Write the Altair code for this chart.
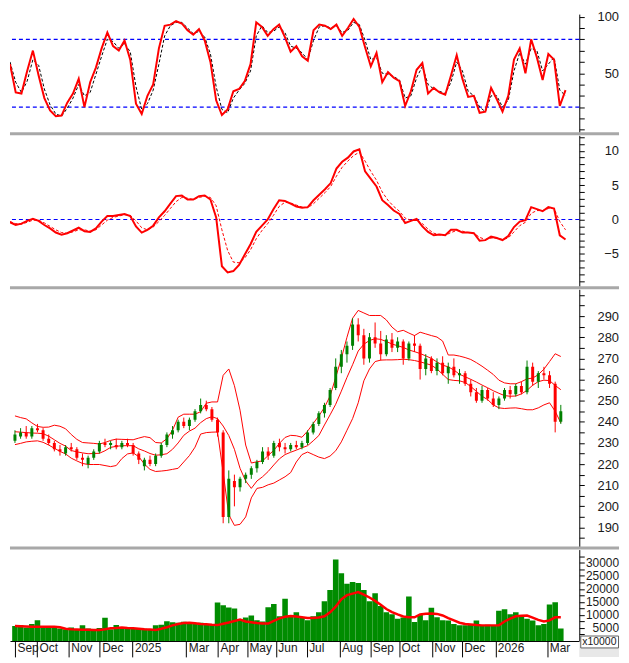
import altair as alt
import pandas as pd

# ---------------- data (one sample every 4 trading days) ----------------
stoch_k = [58, 33, 32, 52, 70, 48, 28, 17, 12, 12.5,
           24, 32, 45, 20, 42, 55, 72, 86, 74, 70,
           79, 62, 23, 14, 30, 40, 72, 92, 93, 96,
           94, 88, 84, 89, 79, 60, 26, 13, 18, 34,
           36, 43, 58, 95, 91, 83, 89, 93, 82, 69,
           74, 65, 61, 88, 93, 92, 89, 93, 83, 90,
           98, 91, 73, 56, 68, 42, 51, 46, 43, 21,
           34, 53, 59, 32, 37, 33, 31, 48, 66, 45,
           29, 30, 15, 16, 37, 27, 16, 30, 62, 72,
           50, 80, 64, 44, 67, 62, 21, 35]
stoch_d = [60, 42, 33, 43, 62, 57, 36, 22, 14, 12,
           19, 28, 40, 30, 33, 49, 65, 80, 78, 72,
           76, 69, 38, 18, 23, 35, 58, 83, 92, 95,
           95, 90, 85, 87, 82, 67, 38, 18, 15, 28,
           35, 41, 52, 83, 92, 86, 87, 91, 86, 74,
           72, 68, 62, 79, 91, 92, 90, 92, 86, 88,
           95, 93, 79, 62, 64, 50, 49, 47, 44, 28,
           30, 46, 56, 40, 36, 34, 32, 42, 60, 52,
           34, 30, 20, 16, 30, 30, 20, 26, 52, 68,
           58, 72, 70, 52, 58, 64, 35, 30]
macd = [-0.4, -0.8, -0.6, -0.2, 0.1, -0.2, -0.8, -1.3, -1.9, -2.2,
        -2.0, -1.6, -1.2, -1.7, -1.8, -1.3, -0.3, 0.5, 0.5, 0.65,
        0.8, 0.5, -1.0, -1.9, -1.5, -0.9, 0.3, 1.2, 2.3, 3.4,
        3.5, 2.9, 2.9, 3.4, 3.5, 2.9, 0.3, -6.8, -7.7, -7.5,
        -6.6, -5.1, -3.6, -1.8, -0.9, 0.0, 1.5, 2.8, 2.7, 2.3,
        1.9, 1.7, 1.8, 2.8, 3.6, 4.4, 5.3, 7.4, 8.4, 9.0,
        9.9, 10.2, 7.0, 5.9, 4.8, 2.8, 2.1, 1.3, 0.8, -0.5,
        -0.2, 0.1, -1.0, -1.8, -2.3, -2.2, -2.3, -1.5, -1.5, -1.9,
        -1.9, -2.0, -3.1, -3.0, -2.5, -2.7, -3.0, -2.4, -1.1, -0.3,
        -0.1, 1.8, 1.5, 1.2, 1.8, 1.6, -2.3, -2.9]
signal = [-0.3, -0.6, -0.7, -0.4, -0.1, -0.1, -0.5, -1.0, -1.5, -1.9,
          -2.0, -1.8, -1.5, -1.5, -1.7, -1.5, -0.8, -0.1, 0.3, 0.5,
          0.7, 0.6, -0.2, -1.2, -1.5, -1.1, -0.3, 0.6, 1.6, 2.6,
          3.2, 3.1, 2.9, 3.2, 3.4, 3.2, 2.0, -1.5, -4.5, -6.2,
          -6.3, -5.6, -4.4, -2.8, -1.6, -0.6, 0.6, 1.9, 2.5, 2.4,
          2.1, 1.8, 1.7, 2.3, 3.1, 3.9, 4.8, 6.3, 7.6, 8.5,
          9.3, 9.8, 8.5, 7.0, 5.7, 4.0, 2.8, 1.9, 1.2, 0.2,
          -0.1, -0.1, -0.6, -1.4, -2.0, -2.2, -2.3, -1.9, -1.6, -1.7,
          -1.9, -2.0, -2.6, -2.9, -2.7, -2.7, -2.9, -2.7, -1.8, -0.9,
          -0.4, 0.9, 1.3, 1.3, 1.6, 1.6, -0.3, -1.5]
open_ = [231, 233, 235, 233, 237, 236, 232, 230, 227, 225,
         228, 227, 223, 220, 223, 226, 230, 229, 229, 228,
         230, 229, 225, 219, 222, 220, 224, 229, 234, 236,
         240, 238, 241, 245, 248, 246, 241, 235, 195, 212,
         209, 213, 215, 218, 221, 226, 224, 230, 228, 227,
         229, 228, 230, 235, 239, 244, 248, 256, 266, 272,
         276, 286, 281, 270, 280, 277, 272, 279, 275, 278,
         270, 277, 276, 265, 270, 264, 268, 263, 266, 262,
         263, 258, 254, 250, 255, 251, 248, 251, 255, 253,
         257, 254, 266, 259, 263, 262, 258, 240]
high = [236, 237, 238, 238, 239, 237, 234, 231, 229, 229,
        230, 228, 225, 224, 227, 231, 232, 231, 232, 231,
        232, 230, 226, 223, 224, 225, 230, 235, 238, 241,
        242, 242, 246, 251, 250, 247, 242, 236, 217, 215,
        214, 216, 219, 222, 228, 228, 231, 232, 230, 230,
        231, 231, 236, 240, 245, 249, 256, 270, 274, 278,
        289, 289, 284, 282, 287, 283, 281, 282, 280, 279,
        278, 281, 277, 272, 271, 270, 271, 268, 270, 265,
        264, 260, 256, 257, 256, 254, 252, 256, 257, 258,
        259, 269, 268, 264, 266, 264, 259, 248]
low = [230, 232, 232, 232, 235, 231, 229, 226, 224, 224,
       226, 222, 219, 218, 222, 225, 228, 227, 227, 227,
       228, 224, 220, 217, 219, 219, 223, 228, 232, 235,
       237, 236, 240, 244, 245, 240, 233, 192, 192, 200,
       207, 211, 213, 216, 220, 222, 223, 226, 225, 226,
       227, 227, 229, 234, 238, 242, 247, 255, 263, 268,
       274, 278, 267, 268, 275, 269, 271, 273, 273, 267,
       269, 273, 260, 262, 263, 262, 262, 258, 261, 258,
       257, 252, 249, 249, 250, 247, 246, 250, 251, 252,
       253, 253, 257, 256, 260, 256, 235, 239]
close = [234, 235, 233, 237, 236, 232, 230, 227, 226, 228,
         227, 223, 222, 223, 226, 230, 229, 230, 228, 230,
         229, 225, 222, 222, 220, 224, 229, 234, 236, 240,
         238, 241, 245, 248, 246, 241, 235, 195, 213, 209,
         213, 215, 218, 221, 226, 224, 230, 228, 227, 229,
         228, 230, 235, 239, 244, 248, 255, 266, 272, 276,
         286, 281, 270, 280, 277, 272, 279, 275, 278, 270,
         277, 276, 265, 270, 264, 268, 263, 266, 262, 263,
         258, 254, 250, 255, 251, 248, 251, 255, 253, 257,
         254, 266, 259, 263, 262, 258, 240, 245]
bb_upper = [242.8, 242, 241.4, 239.5, 237.8, 237.4, 237.5, 238.4, 237.9, 236.7,
            234, 231.7, 230.2, 230, 229.8, 229.5, 230.2, 231.2, 231.8, 231.7,
            231.6, 231.5, 232.3, 233, 232.5, 230.2, 230, 232, 236, 242.2,
            243.6, 243.6, 243.6, 244.8, 248.8, 249.4, 249.4, 262, 265, 257.1,
            245.5, 229, 220.5, 221.1, 221.5, 224.1, 226.5, 229.8, 232.6, 233.6,
            233.4, 232.7, 235.6, 239.2, 242.8, 246.8, 252.2, 261, 270, 280,
            289, 292.7, 291.5, 290.3, 290.3, 290.3, 288.2, 284.8, 282.6, 283.3,
            282, 280.8, 282.4, 281.6, 280.8, 280.1, 278.2, 271.6, 271.6, 271.1,
            270.4, 269.5, 268, 266.3, 264.4, 262.4, 259.7, 258.4, 258, 258,
            259, 260.3, 260.7, 262.3, 264.9, 268.5, 272.2, 270.9]
bb_mid = [235.3, 235.1, 234.9, 234.7, 234.6, 234.4, 233.2, 231.5, 229.8, 228.5,
          226.4, 225.8, 225.3, 224.9, 225, 225.1, 226.3, 227.9, 228.4, 228.7,
          228.7, 228.7, 227.2, 226.2, 225, 224.2, 224.4, 224.9, 227, 230,
          233.6, 235.6, 237, 239.6, 241.5, 242.4, 241.5, 238, 233.5, 227,
          218, 212, 208.5, 212, 214, 216.5, 219.6, 222.5, 224.5, 225.6,
          226.6, 227.7, 228.7, 231, 233.5, 238.5, 243.3, 248.3, 254.5, 261,
          267, 273.5, 276.7, 278.5, 279.3, 279, 278, 276.8, 276, 275.2,
          274, 273.2, 272.3, 271.2, 270, 268.3, 266.8, 266, 264.5, 262.5,
          261.3, 260.1, 258.8, 257.4, 256.1, 254.7, 253.5, 252.4, 252.1, 252.2,
          253.2, 254.9, 257.3, 259, 259.7, 259.5, 257.2, 255.2]
bb_lower = [229.2, 229.8, 230.5, 230.8, 231, 230.3, 229, 227.5, 226, 224.8,
            222.8, 221.5, 220.3, 219.8, 219.8, 219.8, 219.3, 218.8, 219.3, 222.6,
            224.8, 225.3, 223.5, 220, 217.5, 216.5, 216.7, 217, 217.5, 218,
            221, 224, 228, 234.2, 234.9, 235.1, 235.2, 216, 196, 191,
            191.5, 195, 204, 208.5, 209, 210.2, 211, 212.5, 214, 216,
            221, 224.5, 225.7, 224.5, 223.3, 222.6, 223.8, 226.3, 230.5, 236,
            241.5, 249, 259.4, 265, 268.5, 269.2, 269.3, 269.3, 269.4, 269.6,
            269.4, 269, 268.4, 267.6, 266.8, 265, 262.5, 260, 259.6, 259.4,
            258.6, 256.7, 254.4, 252.1, 250.5, 248, 246.6, 246.3, 246.5, 246.6,
            246.2, 245.7, 245.7, 246.6, 248, 249, 245, 239.5]
volume = [5800, 6000, 5200, 6500, 8000, 5500, 5000, 5600, 4800, 4500,
          5200, 4300, 6000, 4800, 4500, 5000, 8900, 4500, 6100, 5200,
          4800, 5000, 4600, 4700, 4500, 6000, 6200, 7600, 7200, 7000,
          7400, 6500, 6800, 7000, 6200, 6500, 14800, 13700, 12900, 12500,
          8100, 9000, 9800, 8000, 7500, 13000, 14200, 9500, 16200, 9800,
          11000, 9000, 8000, 9500, 11000, 15300, 19600, 31300, 26000, 22000,
          22700, 22300, 19600, 15300, 18300, 13400, 11000, 10300, 8500, 9000,
          17100, 7300, 10000, 8000, 12800, 9100, 8000, 7900, 6500, 6000,
          6000, 6500, 7900, 6000, 6200, 6000, 11600, 12200, 10300, 11000,
          9700, 8500, 7900, 6000, 6500, 14000, 14900, 4800]
vol_ma = [5750, 5700, 5600, 5500, 5500, 5500, 5500, 5500, 5300, 4700,
          4500, 4400, 4300, 4300, 4250, 4250, 4500, 4900, 5000, 5150,
          5000, 4900, 4700, 4500, 4400, 4250, 4700, 5300, 6000, 6500,
          6900, 7000, 6800, 6500, 6400, 6200, 6100, 6600, 7100, 7700,
          8200, 7500, 7200, 6900, 6700, 6700, 7700, 8700, 9300, 9600,
          9400, 9100, 8800, 8800, 9000, 9500, 11000, 13200, 16000, 17600,
          18200, 18800, 17800, 16700, 15400, 13900, 12300, 11100, 10200, 9400,
          9100, 9100, 10200, 10500, 10600, 10400, 9800, 8800, 7900, 7000,
          6500, 6300, 6100, 6000, 6000, 6000, 6000, 7500, 8600, 9500,
          9700, 9800, 9000, 8100, 7500, 7900, 9100, 9100]

month_names = ["Sep", "Oct", "Nov", "Dec", "2025", "Mar", "Apr", "May", "Jun",
               "Jul", "Aug", "Sep", "Oct", "Nov", "Dec", "2026", "Mar"]
month_pos = [0, 3.93, 9.58, 15.06, 20.87, 30.45, 36.1, 41.23, 46.36,
             51.84, 57.66, 63.13, 68.26, 74.08, 79.38, 85.37, 94.61]

# ---------------- table ----------------
N = len(close)
df = pd.DataFrame({
    "i": list(range(N)),
    "k": stoch_k, "d": stoch_d, "macd": macd, "sig": signal,
    "o": open_, "h": high, "l": low, "c": close,
    "up": bb_upper, "mid": bb_mid, "lo": bb_lower,
    "vol": volume, "vma": vol_ma,
})
df["dir"] = ["up" if c >= o else "down" for o, c in zip(open_, close)]

W = 573
H1, H2, H3, H4 = 119, 152, 259, 92
FONT = "Liberation Sans"
RED = "#ff0000"
GREEN = "#008000"
BLUE = "#0000ff"
RIGHT = 613          # total drawing width kept inside the page body

xs = alt.Scale(domain=[0, 99.4], nice=False, zero=False)


def rax(values, expr, size=13, fmt="d", flush=False):
    if flush:
        kw = dict(labelFlush=4, labelFlushOffset=2)
    else:
        kw = dict(labelFlush=False)
    return alt.Axis(orient="right", values=values, labelExpr=expr, format=fmt,
                    tickSize=5, tickColor="black", tickWidth=1,
                    domainColor="black", domainWidth=1,
                    labelAlign="right", labelBaseline="middle",
                    labelPadding=RIGHT - W - 5 - 0.5,
                    labelFont=FONT, labelFontSize=size, labelColor="#1a1a1a",
                    labelOverlap=False, grid=False, title=None, **kw)


one = pd.DataFrame({"a": [0]})


def separator(h):
    return alt.Chart(one).mark_rule(color="#a8a8a8", strokeWidth=3).encode(
        x=alt.value(0), x2=alt.value(RIGHT), y=alt.value(h + 1.5))


base = alt.Chart(df)
X1 = dict(scale=xs, axis=None, title=None)

# ---- panel 1: stochastic ----
ax1 = rax(list(range(0, 101, 10)), "datum.value == 50 || datum.value == 100 ? datum.label : ''",
          flush=True)
ys1 = alt.Scale(domain=[-2.28, 102.3], nice=False, zero=False)
lv1 = pd.DataFrame({"v": [20, 80]})
p1 = alt.layer(
    alt.Chart(lv1).mark_rule(stroke=BLUE, color=BLUE, strokeWidth=1.2, strokeDash=[4, 3]).encode(
        y=alt.Y("v:Q", scale=ys1, title=None, axis=ax1)),
    base.mark_line(color="black", strokeWidth=1, strokeDash=[3, 2], clip=True).encode(
        x=alt.X("i:Q", **X1), y=alt.Y("d:Q", scale=ys1, title=None, axis=ax1)),
    base.mark_line(color=RED, strokeWidth=2, clip=True).encode(
        x=alt.X("i:Q", **X1), y=alt.Y("k:Q", scale=ys1, title=None, axis=ax1)),
    separator(H1),
).properties(width=W, height=H1)

# ---- panel 2: MACD ----
ax2 = rax(list(range(-9, 13)), "datum.value % 5 == 0 ? datum.label : ''")
ys2 = alt.Scale(domain=[-9.72, 12.25], nice=False, zero=False)
lv2 = pd.DataFrame({"v": [0]})
p2 = alt.layer(
    alt.Chart(lv2).mark_rule(stroke=BLUE, color=BLUE, strokeWidth=1.2, strokeDash=[4, 3]).encode(
        y=alt.Y("v:Q", scale=ys2, title=None, axis=ax2)),
    base.mark_line(color=RED, strokeWidth=1, strokeDash=[3, 2], clip=True).encode(
        x=alt.X("i:Q", **X1), y=alt.Y("sig:Q", scale=ys2, title=None, axis=ax2)),
    base.mark_line(color=RED, strokeWidth=2, clip=True).encode(
        x=alt.X("i:Q", **X1), y=alt.Y("macd:Q", scale=ys2, title=None, axis=ax2)),
    separator(H2),
).properties(width=W, height=H2)

# ---- panel 3: price + Bollinger ----
ax3 = rax(list(range(185, 301, 5)),
          "datum.value % 10 == 0 && datum.value <= 290 ? datum.label : ''")
ys3 = alt.Scale(domain=[180.95, 302.7], nice=False, zero=False)
col = alt.Color("dir:N", scale=alt.Scale(domain=["up", "down"], range=[GREEN, RED]), legend=None)


def Y3(f):
    return alt.Y(f, scale=ys3, title=None, axis=ax3)


p3 = alt.layer(
    base.mark_line(color=RED, strokeWidth=1, clip=True).encode(x=alt.X("i:Q", **X1), y=Y3("up:Q")),
    base.mark_line(color=RED, strokeWidth=1, clip=True).encode(x=alt.X("i:Q", **X1), y=Y3("mid:Q")),
    base.mark_line(color=RED, strokeWidth=1, clip=True).encode(x=alt.X("i:Q", **X1), y=Y3("lo:Q")),
    base.mark_rule(strokeWidth=1, clip=True).encode(
        x=alt.X("i:Q", **X1), y=Y3("l:Q"), y2="h:Q", color=col),
    base.mark_bar(size=3, clip=True).encode(
        x=alt.X("i:Q", **X1), y=Y3("o:Q"), y2="c:Q", color=col),
    separator(H3),
).properties(width=W, height=H3)

# ---- panel 4: volume ----
ys4 = alt.Scale(domain=[0, 35100], nice=False, zero=True)
ax4 = rax(list(range(2500, 32501, 2500)), "datum.value % 5000 == 0 ? datum.label : ''", size=12)
cond = []
for p, n in zip(month_pos, month_names):
    cond.append(f"datum.value <= {p + 0.001} ? '{n}'")
x_expr = " : ".join(cond) + " : ''"
xaxis = alt.Axis(orient="bottom", values=month_pos, labelExpr=x_expr,
                 tickSize=16, tickColor="black", tickWidth=1,
                 domainColor="black", domainWidth=1,
                 labelAlign="left", labelBaseline="top", labelPadding=-14, labelOffset=2,
                 labelFont=FONT, labelFontSize=12, labelColor="#1a1a1a",
                 labelOverlap=False, labelFlush=False, grid=False, title=None)
X4 = dict(scale=xs, axis=xaxis, title=None)
p4 = alt.layer(
    base.mark_bar(size=5.6, color="#008c00", clip=True).encode(
        x=alt.X("i:Q", **X4), y=alt.Y("vol:Q", scale=ys4, title=None, axis=ax4)),
    base.mark_line(color=RED, strokeWidth=2.5, clip=True).encode(
        x=alt.X("i:Q", **X4), y=alt.Y("vma:Q", scale=ys4, title=None, axis=ax4)),
    alt.Chart(one).mark_rect(fill="#e8e8e8").encode(
        x=alt.value(W), x2=alt.value(RIGHT), y=alt.value(H4 + 0.5), y2=alt.value(H4 + 16)),
    alt.Chart(one).mark_rect(fill="white", stroke="#606060", strokeWidth=1).encode(
        x=alt.value(W + 1.5), x2=alt.value(RIGHT - 0.5), y=alt.value(H4 - 5), y2=alt.value(H4 + 7)),
    alt.Chart(one).mark_text(align="left", baseline="middle", font=FONT, fontSize=10.5,
                             color="#1a1a1a").encode(
        x=alt.value(W + 3), y=alt.value(H4 + 1), text=alt.value("x10000")),
).properties(width=W, height=H4)

chart = alt.vconcat(p1, p2, p3, p4, spacing=3, bounds="flush").resolve_scale(
    x="independent", y="independent", color="independent"
).properties(background="white", padding=0).configure_view(stroke=None)

chart.save("out.html", embed_options={"renderer": "svg", "actions": False})
